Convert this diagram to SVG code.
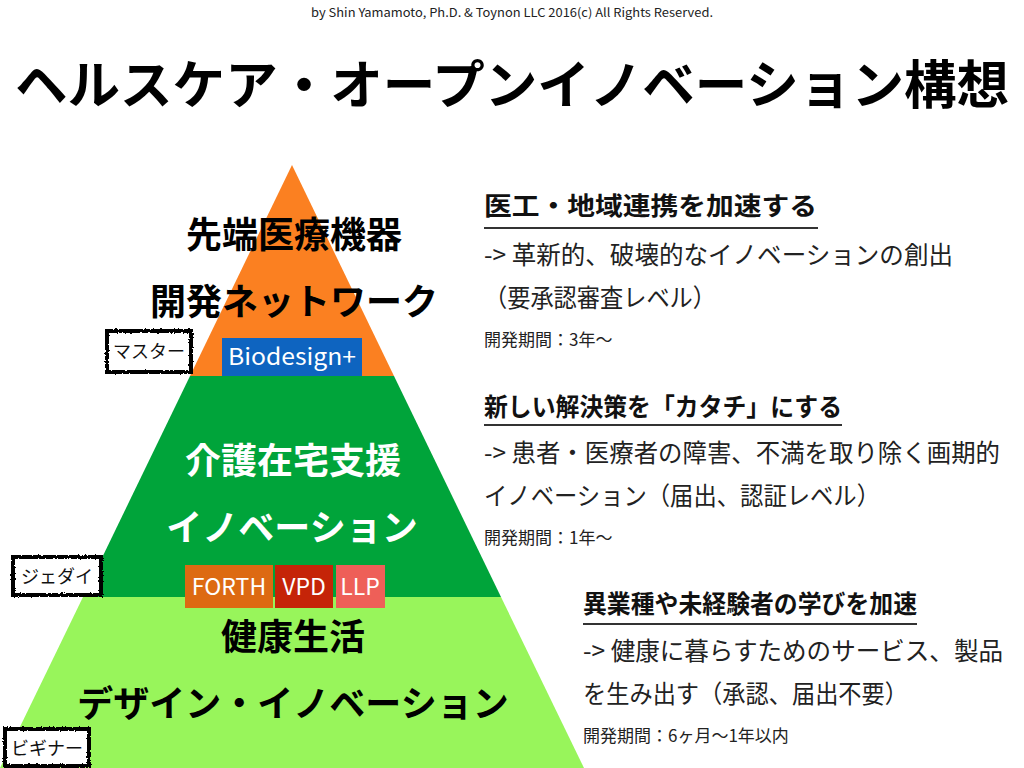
<svg xmlns="http://www.w3.org/2000/svg" width="1024" height="768" viewBox="0 0 1024 768">
<defs>
<style>
text{font-family:"Noto Sans CJK JP","Noto Sans",sans-serif;}
.credit{font-size:12px;fill:#222;}
.title{font-size:52px;font-weight:bold;fill:#000;}
.pyr{font-size:36px;font-weight:bold;text-anchor:middle;}
.lab{font-size:18px;fill:#111;text-anchor:middle;}
.tag{font-size:23px;fill:#fff;text-anchor:middle;}
.head{font-size:25px;font-weight:bold;fill:#111;}
.body{font-size:25px;fill:#222;}
.small{font-size:17px;fill:#222;}
.rule{stroke:#333;stroke-width:2;}
.box{fill:#fff;stroke:#000;stroke-width:4;filter:url(#rough);}
</style>
<filter id="rough" x="-10%" y="-10%" width="120%" height="120%">
<feTurbulence type="fractalNoise" baseFrequency="0.6" numOctaves="2" seed="3" result="n"/>
<feDisplacementMap in="SourceGraphic" in2="n" scale="3" xChannelSelector="R" yChannelSelector="G"/>
</filter>
</defs>
<rect width="1024" height="768" fill="#fff"/>
<text class="credit" x="512" y="17" text-anchor="middle" textLength="402" lengthAdjust="spacingAndGlyphs">by Shin Yamamoto, Ph.D. &amp; Toynon LLC 2016(c) All Rights Reserved.</text>
<text class="title" x="512" y="104" text-anchor="middle" textLength="994" lengthAdjust="spacingAndGlyphs">ヘルスケア・オープンイノベーション構想</text>

<g id="tier-bottom">
<polygon points="83,597 501,597 584,768 0,768" fill="#98F55B"/>
<text class="pyr" x="293" y="650" fill="#000">健康生活</text>
<text class="pyr" x="293" y="717" fill="#000">デザイン・イノベーション</text>
</g>
<g id="tier-middle">
<polygon points="190,376 394,376 501,597 83,597" fill="#00A43A"/>
<text class="pyr" x="293" y="474" fill="#fff">介護在宅支援</text>
<text class="pyr" x="292" y="541" fill="#fff">イノベーション</text>
</g>
<g id="tier-top">
<polygon points="292,165 394,376 190,376" fill="#FB8021"/>
<text class="pyr" x="294" y="248" fill="#000">先端医療機器</text>
<text class="pyr" x="294" y="315" fill="#000">開発ネットワーク</text>
</g>

<g id="biodesign">
<rect x="222" y="338" width="140" height="38" fill="#0E64C0"/>
<text class="tag" x="292" y="365" font-size="22" textLength="128" lengthAdjust="spacingAndGlyphs">Biodesign+</text>
</g>
<g id="forth">
<rect x="185" y="565" width="88" height="43" fill="#DD6A12"/>
<text class="tag" x="229" y="595">FORTH</text>
</g>
<g id="vpd">
<rect x="275" y="565" width="58" height="43" fill="#C52408"/>
<text class="tag" x="304" y="595">VPD</text>
</g>
<g id="llp">
<rect x="336" y="565" width="49" height="43" fill="#EE5F58"/>
<text class="tag" x="360" y="595">LLP</text>
</g>

<g id="label-master">
<rect class="box" x="107" y="331" width="84" height="41"/>
<text class="lab" x="149" y="358">マスター</text>
</g>
<g id="label-jedi">
<rect class="box" x="13" y="557" width="88" height="38"/>
<text class="lab" x="57" y="583">ジェダイ</text>
</g>
<g id="label-beginner">
<rect class="box" x="5" y="729" width="84" height="37"/>
<text class="lab" x="47" y="755">ビギナー</text>
</g>

<g id="desc-top">
<text class="head" x="484" y="215" textLength="333" lengthAdjust="spacingAndGlyphs">医工・地域連携を加速する</text>
<line class="rule" x1="484" y1="228" x2="818" y2="228"/>
<text class="body" x="484" y="264" textLength="469" lengthAdjust="spacingAndGlyphs">-&gt; 革新的、破壊的なイノベーションの創出</text>
<text class="body" x="484" y="307" textLength="232" lengthAdjust="spacingAndGlyphs">（要承認審査レベル）</text>
<text class="small" x="484" y="346">開発期間：3年〜</text>
</g>
<g id="desc-middle">
<text class="head" x="484" y="416" textLength="358" lengthAdjust="spacingAndGlyphs">新しい解決策を「カタチ」にする</text>
<line class="rule" x1="484" y1="425" x2="842" y2="425"/>
<text class="body" x="484" y="462" textLength="516" lengthAdjust="spacingAndGlyphs">-&gt; 患者・医療者の障害、不満を取り除く画期的</text>
<text class="body" x="484" y="505" textLength="396" lengthAdjust="spacingAndGlyphs">イノベーション（届出、認証レベル）</text>
<text class="small" x="484" y="544">開発期間：1年〜</text>
</g>
<g id="desc-bottom">
<text class="head" x="583" y="613" textLength="334" lengthAdjust="spacingAndGlyphs">異業種や未経験者の学びを加速</text>
<line class="rule" x1="583" y1="624" x2="917" y2="624"/>
<text class="body" x="583" y="660" textLength="420" lengthAdjust="spacingAndGlyphs">-&gt; 健康に暮らすためのサービス、製品</text>
<text class="body" x="583" y="703" textLength="325" lengthAdjust="spacingAndGlyphs">を生み出す（承認、届出不要）</text>
<text class="small" x="583" y="742">開発期間：6ヶ月〜1年以内</text>
</g>
<g id="connectors"></g>
</svg>
